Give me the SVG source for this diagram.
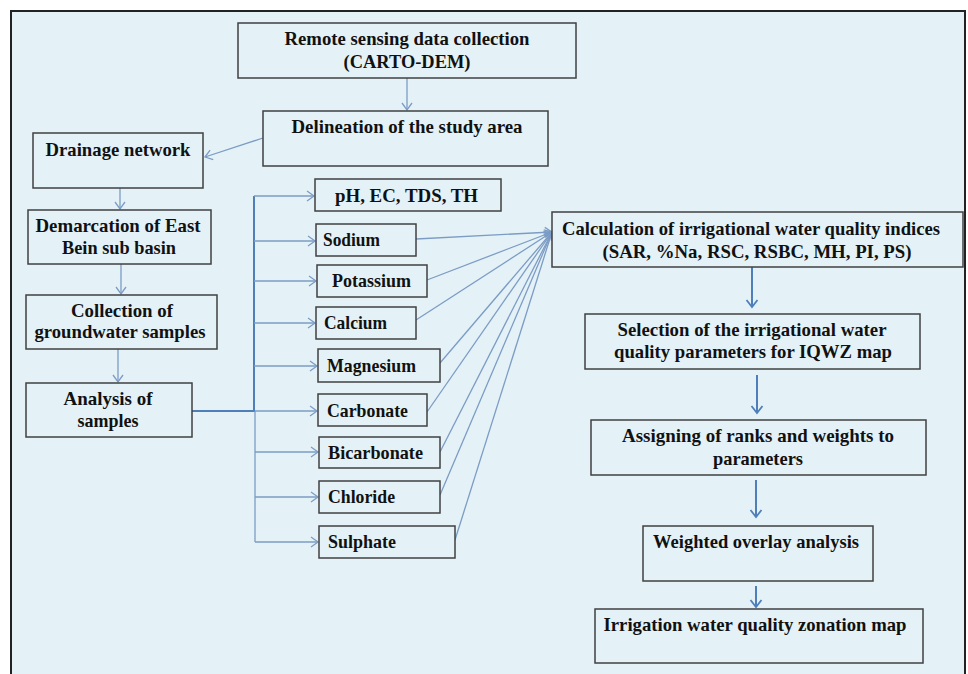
<svg xmlns="http://www.w3.org/2000/svg" width="968" height="674" viewBox="0 0 968 674">
<style>
.box{fill:#E4F2F8;stroke:#404040;stroke-width:1.5}
.t{font-family:"Liberation Serif","Times New Roman",serif;font-weight:bold;font-size:19px;fill:#111}
.c{text-anchor:middle}
.thin{fill:none;stroke:#7C9CC4;stroke-width:1.3}
.thick{fill:none;stroke:#4F7FBA;stroke-width:2}
</style>
<defs>
<marker id="ah" markerUnits="userSpaceOnUse" markerWidth="14" markerHeight="14" refX="10" refY="7" orient="auto">
<path d="M3,2 L10,7 L3,12" fill="none" stroke="#7C9CC4" stroke-width="1.3"/>
</marker>
<marker id="ahb" markerUnits="userSpaceOnUse" markerWidth="14" markerHeight="14" refX="10" refY="7" orient="auto">
<path d="M3,1.5 L10,7 L3,12.5" fill="none" stroke="#4F7FBA" stroke-width="1.8"/>
</marker>
</defs>
<rect x="0" y="0" width="968" height="674" fill="#ffffff"/>
<rect x="11" y="11" width="954" height="680" fill="#E4F2F8" stroke="#222" stroke-width="2"/>

<g id="connectors">
<line class="thin" x1="407" y1="78" x2="407" y2="110" marker-end="url(#ah)"/>
<line class="thin" x1="263" y1="138" x2="205" y2="157" marker-end="url(#ah)"/>
<line class="thin" x1="120" y1="188" x2="120" y2="209" marker-end="url(#ah)"/>
<line class="thin" x1="121" y1="264" x2="121" y2="294" marker-end="url(#ah)"/>
<line class="thin" x1="118" y1="349" x2="118" y2="382" marker-end="url(#ah)"/>
<line class="thick" x1="192" y1="411" x2="255" y2="411"/>
<line class="thick" x1="254" y1="196" x2="254" y2="411"/>
<line class="thin" x1="255" y1="411" x2="255" y2="542"/>
<line class="thin" x1="254" y1="196" x2="314" y2="196" marker-end="url(#ah)"/>
<line class="thin" x1="254" y1="241" x2="315" y2="241" marker-end="url(#ah)"/>
<line class="thin" x1="254" y1="281" x2="316" y2="281" marker-end="url(#ah)"/>
<line class="thin" x1="254" y1="323" x2="315" y2="323" marker-end="url(#ah)"/>
<line class="thin" x1="254" y1="366" x2="317" y2="366" marker-end="url(#ah)"/>
<line class="thin" x1="255" y1="411" x2="317" y2="411" marker-end="url(#ah)"/>
<line class="thin" x1="255" y1="452" x2="318" y2="452" marker-end="url(#ah)"/>
<line class="thin" x1="255" y1="497" x2="318" y2="497" marker-end="url(#ah)"/>
<line class="thin" x1="255" y1="542" x2="318" y2="542" marker-end="url(#ah)"/>
<line class="thin" x1="416" y1="239" x2="552" y2="232" marker-end="url(#ah)"/>
<line class="thin" x1="427" y1="280" x2="552" y2="232" marker-end="url(#ah)"/>
<line class="thin" x1="416" y1="320" x2="552" y2="232" marker-end="url(#ah)"/>
<line class="thin" x1="440" y1="363" x2="552" y2="232" marker-end="url(#ah)"/>
<line class="thin" x1="427" y1="412" x2="552" y2="232" marker-end="url(#ah)"/>
<line class="thin" x1="440" y1="452" x2="552" y2="232" marker-end="url(#ah)"/>
<line class="thin" x1="440" y1="495" x2="552" y2="232" marker-end="url(#ah)"/>
<line class="thin" x1="455" y1="540" x2="552" y2="232" marker-end="url(#ah)"/>
<line class="thick" x1="752" y1="267" x2="752" y2="307" marker-end="url(#ahb)"/>
<line class="thick" x1="757" y1="375" x2="757" y2="413" marker-end="url(#ahb)"/>
<line class="thick" x1="756" y1="480" x2="756" y2="517" marker-end="url(#ahb)"/>
<line class="thick" x1="756" y1="586" x2="756" y2="607" marker-end="url(#ahb)"/>
</g>

<g id="remote"><rect class="box" x="238" y="23" width="338" height="55"/>
<text class="t c" x="407" y="45" textLength="245" lengthAdjust="spacingAndGlyphs">Remote sensing data collection</text>
<text class="t c" x="407" y="68" textLength="127" lengthAdjust="spacingAndGlyphs">(CARTO-DEM)</text></g>
<g id="delineation"><rect class="box" x="263" y="111" width="285" height="55"/>
<text class="t c" x="407" y="133" textLength="231" lengthAdjust="spacingAndGlyphs">Delineation of the study area</text></g>
<g id="drainage"><rect class="box" x="33" y="133" width="170" height="55"/>
<text class="t c" x="118" y="156" textLength="145" lengthAdjust="spacingAndGlyphs">Drainage network</text></g>
<g id="demarcation"><rect class="box" x="28" y="210" width="183" height="54"/>
<text class="t c" x="118" y="232" textLength="165" lengthAdjust="spacingAndGlyphs">Demarcation of East</text>
<text class="t c" x="119" y="254" textLength="114" lengthAdjust="spacingAndGlyphs">Bein sub basin</text></g>
<g id="collection"><rect class="box" x="26" y="295" width="191" height="54"/>
<text class="t c" x="122" y="317" textLength="102" lengthAdjust="spacingAndGlyphs">Collection of</text>
<text class="t c" x="120" y="338" textLength="171" lengthAdjust="spacingAndGlyphs">groundwater samples</text></g>
<g id="analysis"><rect class="box" x="26" y="383" width="166" height="54"/>
<text class="t c" x="108" y="405" textLength="89" lengthAdjust="spacingAndGlyphs">Analysis of</text>
<text class="t c" x="108" y="427" textLength="61" lengthAdjust="spacingAndGlyphs">samples</text></g>

<g id="ph"><rect class="box" x="315" y="179" width="186" height="32"/>
<text class="t" x="335" y="202" textLength="143" lengthAdjust="spacingAndGlyphs">pH, EC, TDS, TH</text></g>
<g id="sodium"><rect class="box" x="316" y="224" width="100" height="32"/>
<text class="t" x="323" y="246" textLength="57" lengthAdjust="spacingAndGlyphs">Sodium</text></g>
<g id="potassium"><rect class="box" x="317" y="265" width="110" height="32"/>
<text class="t" x="332" y="287" textLength="79" lengthAdjust="spacingAndGlyphs">Potassium</text></g>
<g id="calcium"><rect class="box" x="316" y="307" width="100" height="32"/>
<text class="t" x="324" y="329" textLength="63" lengthAdjust="spacingAndGlyphs">Calcium</text></g>
<g id="magnesium"><rect class="box" x="318" y="349" width="122" height="33"/>
<text class="t" x="327" y="372" textLength="89" lengthAdjust="spacingAndGlyphs">Magnesium</text></g>
<g id="carbonate"><rect class="box" x="318" y="394" width="109" height="32"/>
<text class="t" x="327" y="417" textLength="81" lengthAdjust="spacingAndGlyphs">Carbonate</text></g>
<g id="bicarbonate"><rect class="box" x="319" y="437" width="121" height="31"/>
<text class="t" x="328" y="459" textLength="95" lengthAdjust="spacingAndGlyphs">Bicarbonate</text></g>
<g id="chloride"><rect class="box" x="319" y="481" width="121" height="32"/>
<text class="t" x="328" y="503" textLength="67" lengthAdjust="spacingAndGlyphs">Chloride</text></g>
<g id="sulphate"><rect class="box" x="319" y="526" width="136" height="32"/>
<text class="t" x="328" y="548" textLength="68" lengthAdjust="spacingAndGlyphs">Sulphate</text></g>

<g id="calculation"><rect class="box" x="552" y="212" width="411" height="55"/>
<text class="t c" x="751" y="235" textLength="378" lengthAdjust="spacingAndGlyphs">Calculation of irrigational water quality indices</text>
<text class="t c" x="757" y="258" textLength="309" lengthAdjust="spacingAndGlyphs">(SAR, %Na, RSC, RSBC, MH, PI, PS)</text></g>
<g id="selection"><rect class="box" x="585" y="314" width="335" height="55"/>
<text class="t c" x="752" y="336" textLength="269" lengthAdjust="spacingAndGlyphs">Selection of the irrigational water</text>
<text class="t c" x="753" y="358" textLength="278" lengthAdjust="spacingAndGlyphs">quality parameters for IQWZ map</text></g>
<g id="assigning"><rect class="box" x="591" y="420" width="335" height="55"/>
<text class="t c" x="758" y="442" textLength="272" lengthAdjust="spacingAndGlyphs">Assigning of ranks and weights to</text>
<text class="t c" x="758" y="465" textLength="90" lengthAdjust="spacingAndGlyphs">parameters</text></g>
<g id="weighted"><rect class="box" x="643" y="526" width="230" height="55"/>
<text class="t c" x="756" y="548" textLength="206" lengthAdjust="spacingAndGlyphs">Weighted overlay analysis</text></g>
<g id="irrigation"><rect class="box" x="595" y="609" width="328" height="54"/>
<text class="t c" x="755" y="631" textLength="303" lengthAdjust="spacingAndGlyphs">Irrigation water quality zonation map</text></g>
</svg>
